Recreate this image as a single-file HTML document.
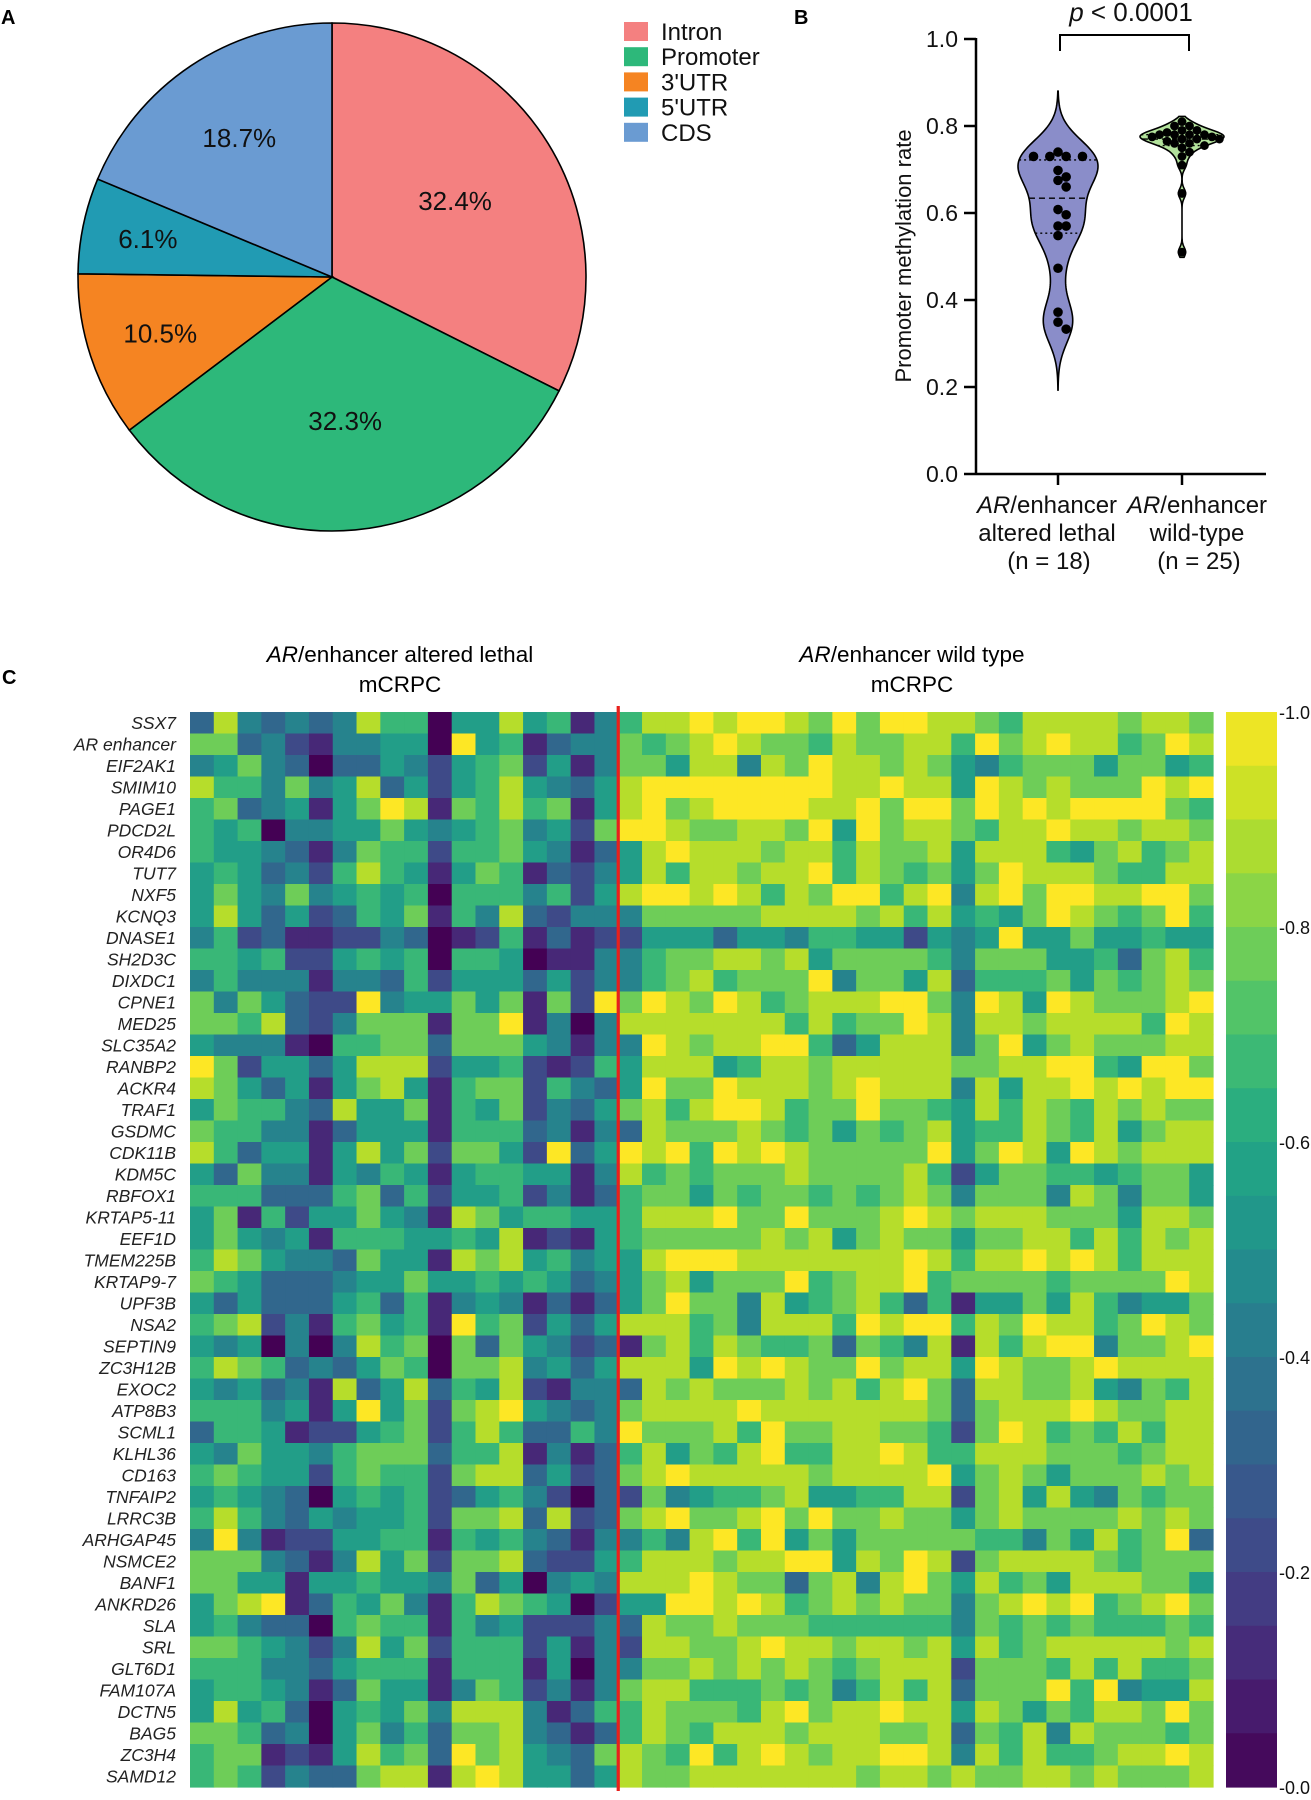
<!DOCTYPE html>
<html><head><meta charset="utf-8"><style>
html,body{margin:0;padding:0;background:#fff;}
svg{display:block;font-family:"Liberation Sans",Arial,sans-serif;}
</style></head><body>
<svg id="fig" width="1311" height="1800" viewBox="0 0 1311 1800" xmlns="http://www.w3.org/2000/svg">
<text x="1" y="24" font-size="20" font-weight="bold">A</text>
<text x="794" y="24" font-size="20" font-weight="bold">B</text>
<text x="2" y="684" font-size="20" font-weight="bold">C</text>
<g id="pie"></g>
<g id="legend"></g>
<g id="violin"></g>
<g id="heat"></g>
<text x="400" y="662" font-size="22.5" text-anchor="middle"><tspan font-style="italic">AR</tspan>/enhancer altered lethal</text>
<text x="400" y="692" font-size="22.5" text-anchor="middle">mCRPC</text>
<text x="912" y="662" font-size="22.5" text-anchor="middle"><tspan font-style="italic">AR</tspan>/enhancer wild type</text>
<text x="912" y="692" font-size="22.5" text-anchor="middle">mCRPC</text>
</svg>
<script>
const NS="http://www.w3.org/2000/svg";
function mk(tag,attrs,parent){const e=document.createElementNS(NS,tag);for(const k in attrs)e.setAttribute(k,attrs[k]);parent.appendChild(e);return e;}

// ---------- PIE DATA ----------
const pieLabels=["Intron","Promoter","3'UTR","5'UTR","CDS"];
const pieValues=[32.4,32.3,10.5,6.1,18.7];
const pieColors=["#f48080","#2db87a","#f58422","#219bb3","#6a9bd2"];

// ---------- VIOLIN DATA ----------
const groupNames=["altered","wildtype"];
const alteredValues=[0.730,0.730,0.730,0.730,0.740,0.698,0.675,0.683,0.660,0.608,0.596,0.570,0.570,0.548,0.473,0.372,0.349,0.333];
const wildtypeValues=[0.81,0.80,0.80,0.79,0.79,0.785,0.78,0.78,0.78,0.78,0.775,0.775,0.77,0.77,0.77,0.765,0.76,0.76,0.755,0.75,0.74,0.73,0.71,0.645,0.51];
const yTicks=[0,0.2,0.4,0.6,0.8,1.0];

// ---------- HEATMAP DATA (digit d -> value d/9) ----------
const rowLabels=["SSX7","AR enhancer","EIF2AK1","SMIM10","PAGE1","PDCD2L","OR4D6","TUT7","NXF5","KCNQ3","DNASE1","SH2D3C","DIXDC1","CPNE1","MED25","SLC35A2","RANBP2","ACKR4","TRAF1","GSDMC","CDK11B","KDM5C","RBFOX1","KRTAP5-11","EEF1D","TMEM225B","KRTAP9-7","UPF3B","NSA2","SEPTIN9","ZC3H12B","EXOC2","ATP8B3","SCML1","KLHL36","CD163","TNFAIP2","LRRC3B","ARHGAP45","NSMCE2","BANF1","ANKRD26","SLA","SRL","GLT6D1","FAM107A","DCTN5","BAG5","ZC3H4","SAMD12"];
const alteredRows=["384343486605585614","773421445509561344","457430335425672514","866474583525685435","673451579817686715","656044557545674527","655431476626675413","565342686515761324","575474565606664625","585352365716483244","462311224301261312","665622565606650114","464441443625553524","747532294557571729","776832477717791404","544410667737775414","972553588825562126","875351578516772643","576643855716572435","766441355516663414","863551585727752935","537441546515665514","666333673625562413","571625575418756655","575451666556581215","687544375518785645","765333455755656534","535333563614541313","678241675619672535","545040486707375423","687634357607784535","545341835836582144","666451595727895434","366512256726863364","547554677736681413","676552676627883523","565430565623564203","686435455627783823","494122556616564314","777431485727783225","775515565547350454","578913657416876502","564330676616452224","776542485726662514","666443566616661504","566541375514762414","585630565748884136","776340574637784313","677121586739785437","676243378818985535"];
const wildtypeRows=["6889899879799887688887887","7678987768778869789886798","7758848798878754677757756","8999999998898859878777989","8978999988979979898999976","9987788795978876889887887","5898887886877858886578678","5868878896876757988876688","8998986879968948979988997","4777778888786856579876796","2555355466552545955755655","4677887857777647775563786","4678677794775836667576787","7987986788899749859877789","8888888686779848878888698","4987889963588847957877788","5888568878888877889965997","5977988878988848588989899","7868998677977658687687877","3877787675767856687685788","9896989877777957985987888","8676777877778625776656775","6775767767678747774874775","6888977977789878887775887","6777778785787757788686878","5899988888889868898986888","5785777967889677776777798","5797748567863615575864557","8886748886989968798867987","1786876673764818689947789","8885989877978859877898888","3878777878689738877854768","7888898888888737888987788","9777869778877627986768688","6857689668898668887776788","7898888878888957875777878","2745667855668827858547677","7897789797787757877778787","4648969575777776647586793","6888788995879827888876777","8889877378489758675888775","5599898678787747898967897","3877877766666647676766676","2887789887887858678888878","4778787876788827776868667","7886667674686837779694558","6877768978898858757688797","6876888788877837684877767","8769689878899848686678898","8778888888788787788787778"];
const colorbarTicks=["-1.0","-0.8","-0.6","-0.4","-0.2","-0.0"];

// ---------- helpers ----------
const vStops=["#440154","#482475","#414487","#355f8d","#2a788e","#21918c","#22a884","#44bf70","#7ad151","#bddf26","#fde725"];
function hex(c){return [parseInt(c.slice(1,3),16),parseInt(c.slice(3,5),16),parseInt(c.slice(5,7),16)];}
function viridis(t){t=Math.max(0,Math.min(1,t));const p=t*10,i=Math.min(9,Math.floor(p)),f=p-i;const a=hex(vStops[i]),b=hex(vStops[i+1]);return "rgb("+a.map((v,k)=>Math.round(v+(b[k]-v)*f)).join(",")+")";}

// ---------- PIE ----------
(function(){
  const g=document.getElementById('pie');
  const cx=332,cy=277,r=254;
  const total=pieValues.reduce((a,b)=>a+b,0);
  let acc=0;
  pieValues.forEach((v,i)=>{
    const a0=acc/total*2*Math.PI, a1=(acc+v)/total*2*Math.PI; acc+=v;
    const x0=cx+r*Math.sin(a0),y0=cy-r*Math.cos(a0),x1=cx+r*Math.sin(a1),y1=cy-r*Math.cos(a1);
    const large=(a1-a0)>Math.PI?1:0;
    const p=mk('path',{d:`M${cx},${cy} L${x0},${y0} A${r},${r} 0 ${large} 1 ${x1},${y1} Z`,fill:pieColors[i],stroke:'#000','stroke-width':1.6},g);
    
    
    const am=(a0+a1)/2, lr=r*(0.78-0.0065*v);
    const t=mk('text',{x:cx+lr*Math.sin(am),y:cy-lr*Math.cos(am)+9,'font-size':26,'text-anchor':'middle',fill:'#111'},g);
    t.textContent=v.toFixed(1)+'%';
    
    
  });
  const lg=document.getElementById('legend');
  pieLabels.forEach((n,i)=>{
    const y=22+i*25.2;
    const s=mk('rect',{x:624,y:y,width:24,height:19,fill:pieColors[i]},lg);
    
    
    const t=mk('text',{x:661,y:y+18,'font-size':24,fill:'#111'},lg);
    t.textContent=n;
    
    
  });
})();

// ---------- VIOLIN ----------
(function(){
  const g=document.getElementById('violin');
  const axX=976, y0=474, y1=39;
  const ys=v=>y0-(y0-y1)*v;
  const groupX=[1058,1182];
  const labelX=[1047,1197];
  const ax=mk('line',{x1:axX,y1:y1-1,x2:axX,y2:y0,stroke:'#000','stroke-width':2.5},g);
  
  
  yTicks.forEach(v=>{
    const l=mk('line',{x1:axX-12,y1:ys(v),x2:axX,y2:ys(v),stroke:'#000','stroke-width':2.5},g);
    
    
    const t=mk('text',{x:958,y:ys(v)+8,'font-size':23,'text-anchor':'end',fill:'#111'},g);
    t.textContent=v.toFixed(1);
    
    
  });
  const yt=mk('text',{x:0,y:0,'font-size':22,'text-anchor':'middle',fill:'#111',transform:'translate(911,256) rotate(-90)'},g);
  yt.textContent='Promoter methylation rate';
  
  
  const xa=mk('line',{x1:axX,y1:y0,x2:1266,y2:y0,stroke:'#000','stroke-width':2.5},g);
  
  
  const labels=[["altered lethal","(n = 18)"],["wild-type","(n = 25)"]];
  groupX.forEach((x,i)=>{
    const l=mk('line',{x1:x,y1:y0,x2:x,y2:y0+11,stroke:'#000','stroke-width':2.5},g);
    
    
    const lx=labelX[i];
    const t1=mk('text',{x:lx,y:513,'font-size':24,'text-anchor':'middle',fill:'#111'},g);
    t1.innerHTML='<tspan font-style="italic">AR</tspan>/enhancer';
    
    
    const t2=mk('text',{x:lx,y:541,'font-size':24,'text-anchor':'middle',fill:'#111'},g);
    t2.textContent=labels[i][0];
    
    
    const t3=mk('text',{x:lx+2,y:569,'font-size':24,'text-anchor':'middle',fill:'#111'},g);
    t3.textContent=labels[i][1];
    
    
  });
  const br=mk('path',{d:`M${groupX[0]+2},51 L${groupX[0]+2},35 L${groupX[1]+7},35 L${groupX[1]+7},51`,fill:'none',stroke:'#000','stroke-width':2},g);
  
  
  const pt=mk('text',{x:1131,y:21,'font-size':26,'text-anchor':'middle',fill:'#111'},g);
  pt.innerHTML='<tspan font-style="italic">p</tspan> &lt; 0.0001';
  
  

  function quant(arr,q){const s=[...arr].sort((a,b)=>a-b);const p=(s.length-1)*q,i=Math.floor(p),f=p-i;return s[i]+(s[Math.min(s.length-1,i+1)]-s[i])*f;}
  function drawViolin(vals,x,bw,ext,maxHW,fill,name,dotR){
    const lo=Math.min(...vals)-ext, hi=Math.max(...vals)+ext;
    const dens=v=>vals.reduce((s,d)=>s+Math.exp(-0.5*((v-d)/bw)**2),0);
    const N=160;let dmax=0;const pts=[];
    for(let i=0;i<=N;i++){const v=lo+(hi-lo)*i/N;const d=dens(v);pts.push([v,d]);if(d>dmax)dmax=d;}
    const hw=v=>maxHW*dens(v)/dmax;
    let d='';
    pts.forEach(([v,dd],i)=>{d+=(i?'L':'M')+(x+maxHW*dd/dmax)+','+ys(v);});
    for(let i=pts.length-1;i>=0;i--){const [v,dd]=pts[i];d+='L'+(x-maxHW*dd/dmax)+','+ys(v);}
    d+='Z';
    const p=mk('path',{d:d,fill:fill,stroke:'#000','stroke-width':1.6},g);
    
    
    [[0.25,'2,3'],[0.5,'6,4'],[0.75,'2,3']].forEach(([q,da])=>{
      const v=quant(vals,q),w=hw(v);
      const l=mk('line',{x1:x-w,y1:ys(v),x2:x+w,y2:ys(v),stroke:'#000','stroke-width':1.4,'stroke-dasharray':da},g);
      
      
    });
    const placed=[];
    [...vals].sort((a,b)=>b-a).forEach(v=>{
      const y=ys(v);let dx=0;
      for(let k=0;k<40;k++){
        const off=(k%2?1:-1)*Math.ceil(k/2)*dotR*1.7;
        if(placed.every(([px,py])=>Math.hypot(px-(x+off),py-y)>=dotR*1.7)){dx=off;break;}
      }
      placed.push([x+dx,y]);
      const c=mk('circle',{cx:x+dx,cy:y,r:dotR,fill:'#000'},g);
      
      
    });
  }
  drawViolin(alteredValues,groupX[0],0.047,0.14,40,'#8a8dc9','altered',4.8);
  drawViolin(wildtypeValues,groupX[1],0.011,0.012,42,'#b3e29c','wildtype',4.4);
})();

// ---------- HEATMAP ----------
(function(){
  const g=document.getElementById('heat');
  const x0=190,y0=712,x1=1213,y1=1787;
  const nCols=alteredRows[0].length+wildtypeRows[0].length;
  const cw=(x1-x0)/nCols, rh=(y1-y0)/rowLabels.length;
  rowLabels.forEach((lab,r)=>{
    const vals=(alteredRows[r]+wildtypeRows[r]).split('').map(c=>+c/9);
    vals.forEach((v,c)=>{
      const rc=mk('rect',{x:x0+c*cw,y:y0+r*rh,width:cw+0.6,height:rh+0.6,fill:viridis(v)},g);
      
      
    });
    const t=mk('text',{x:176,y:y0+r*rh+rh/2+6,'font-size':17.5,'font-style':'italic','text-anchor':'end',fill:'#222'},g);
    t.textContent=lab;
    
    
  });
  const sx=x0+alteredRows[0].length*cw;
  const red=mk('line',{x1:sx,y1:y0-6,x2:sx,y2:y1+4,stroke:'#e8201c','stroke-width':3.2},g);
  
  
  const cbx=1226,cbw=51,nb=20;
  for(let i=0;i<nb;i++){
    const b=mk('rect',{x:cbx,y:y0+i*(y1-y0)/nb,width:cbw,height:(y1-y0)/nb+0.6,fill:viridis(1-(i+0.5)/nb)},g);
    
    
  }
  colorbarTicks.forEach((lab,i)=>{
    const t=mk('text',{x:cbx+cbw+2,y:y0+i*(y1-y0)/(colorbarTicks.length-1)+7,'font-size':18,fill:'#111'},g);
    t.textContent=lab;
    
    
  });
})();
</script>
</body></html>
